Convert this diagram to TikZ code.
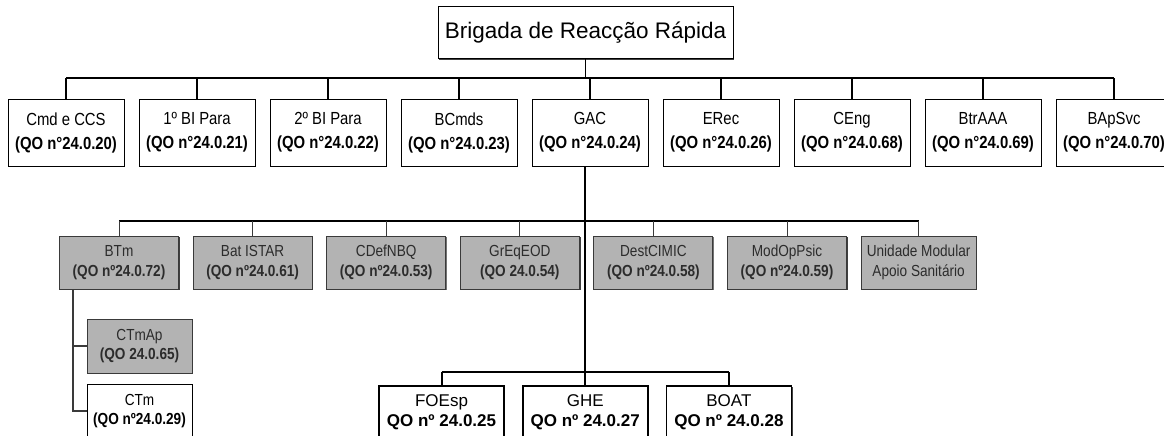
\documentclass[tikz,border=0pt]{standalone}
\usepackage{fontspec}
\setmainfont{Liberation Sans}
\newfontfamily\narrowsans{Liberation Sans}[FakeStretch=0.85]
\usetikzlibrary{positioning}
\usetikzlibrary{shadows}
\definecolor{boxgray}{HTML}{B3B3B3}
\definecolor{edgegray}{HTML}{3A3A3A}
\definecolor{inkgray}{HTML}{2C2C2C}

\begin{document}
\begin{tikzpicture}[x=1pt, y=-1pt,
        unitbox/.style={draw, fill=white, line width=1pt, inner sep=0pt, align=center,
            drop shadow={shadow xshift=1.3pt, shadow yshift=-1.3pt, opacity=1, fill=black!75}},
        brigbox/.style={unitbox, minimum width=295pt, minimum height=52pt,
            font=\fontsize{22.5}{27}\selectfont},
        rowbox/.style={unitbox, minimum width=116pt, minimum height=67pt,
            font=\narrowsans\fontsize{17.5}{24}\selectfont},
        graybox/.style={unitbox, draw=edgegray, fill=boxgray, text=inkgray, minimum width=119pt,
            minimum height=53pt, font=\narrowsans\fontsize{16}{19.5}\selectfont,
            drop shadow={shadow xshift=0.8pt, shadow yshift=-0.8pt, opacity=1, fill=black!55}},
        ctmbox/.style={graybox, minimum width=105pt, minimum height=54pt},
        lowbox/.style={unitbox, line width=1.7pt, minimum width=125pt, minimum height=52pt,
            font=\fontsize{17}{20}\selectfont, drop shadow={opacity=0}},
        mainbar/.style={line width=2.4pt},
        link/.style={line width=1.1pt},
        thinlink/.style={line width=1pt, draw=edgegray},
        gacline/.style={line width=2pt}]
    \useasboundingbox (0,0) rectangle (1164,436);

    % brigade
    \node[brigbox] (brr) at (585.5,33) {Brigada de Reacção Rápida};

    % first level
    \node[rowbox] (cmd) at (66,132.5) {Cmd e CCS\\\textbf{(QO n°24.0.20)}};
    \node[rowbox] (bi1) [right=14pt of cmd] {1º BI Para\\\textbf{(QO n°24.0.21)}};
    \node[rowbox] (bi2) [right=14pt of bi1] {2º BI Para\\\textbf{(QO n°24.0.22)}};
    \node[rowbox] (bcmds) [right=14pt of bi2] {BCmds\\\textbf{(QO n°24.0.23)}};
    \node[rowbox] (gac) [right=14pt of bcmds] {GAC\\\textbf{(QO n°24.0.24)}};
    \node[rowbox] (erec) [right=14pt of gac] {ERec\\\textbf{(QO n°24.0.26)}};
    \node[rowbox] (ceng) [right=14pt of erec] {CEng\\\textbf{(QO n°24.0.68)}};
    \node[rowbox] (btraaa) [right=14pt of ceng] {BtrAAA\\\textbf{(QO n°24.0.69)}};
    \node[rowbox] (bapsvc) [right=14pt of btraaa] {BApSvc\\\textbf{(QO n°24.0.70)}};

    % second level
    \node[graybox] (btm) at (119,262.5) {BTm\\\textbf{(QO nº24.0.72)}};
    \node[graybox] (istar) [right=13.6pt of btm] {Bat ISTAR\\\textbf{(QO nº24.0.61)}};
    \node[graybox] (nbq) [right=13.6pt of istar] {CDefNBQ\\\textbf{(QO nº24.0.53)}};
    \node[graybox] (eod) [right=13.6pt of nbq] {GrEqEOD\\\textbf{(QO 24.0.54)}};
    \node[graybox] (cimic) [right=13.6pt of eod] {DestCIMIC\\\textbf{(QO nº24.0.58)}};
    \node[graybox] (psic) [right=13.6pt of cimic] {ModOpPsic\\\textbf{(QO nº24.0.59)}};
    \node[graybox, minimum width=115pt] (sanit) [right=13.6pt of psic] {Unidade Modular\\Apoio Sanitário};

    \node[ctmbox] (ctmap) at (139.5,346) {CTmAp\\\textbf{(QO 24.0.65)}};
    \node[ctmbox, fill=white, draw=black, text=black] (ctm) [below=10pt of ctmap] {CTm\\\textbf{(QO nº24.0.29)}};

    % third level
    \node[lowbox] (foesp) at (441.5,412) {FOEsp\\\textbf{QO nº 24.0.25}};
    \node[lowbox] (ghe) [right=17pt of foesp] {GHE\\\textbf{QO nº 24.0.27}};
    \node[lowbox] (boat) [right=17pt of ghe] {BOAT\\\textbf{QO nº 24.0.28}};

    % connectors
    \coordinate (topbar) at (0,78);
    \coordinate (midbar) at (0,221);
    \coordinate (lowbar) at (0,372);
    \coordinate (gacout) at ([xshift=-5pt]gac.south);

    \draw[mainbar] (cmd.north |- topbar) -- (bapsvc.north |- topbar);
    \draw[link] (brr.south) -- (brr.south |- topbar);
    \foreach \u in {cmd, bi1, bi2, bcmds, gac, erec, ceng, btraaa, bapsvc}
        \draw[link] (\u.north) -- (\u.north |- topbar);

    \draw[gacline] (gacout) -- (gacout |- lowbar);
    \draw[link] (btm.north |- midbar) -- (sanit.north |- midbar);
    \foreach \u in {btm, istar, nbq, eod, cimic, psic, sanit}
        \draw[thinlink] (\u.north) -- (\u.north |- midbar);

    \draw[thinlink, line width=1.3pt] ([xshift=14pt]btm.south west) |- (ctmap.west);
    \draw[thinlink, line width=1.3pt] ([xshift=14pt]btm.south west) |- (ctm.west);

    \draw[link] (foesp.north |- lowbar) -- (boat.north |- lowbar);
    \foreach \u in {foesp, ghe, boat}
        \draw[gacline] (\u.north) -- (\u.north |- lowbar);
\end{tikzpicture}
\end{document}
